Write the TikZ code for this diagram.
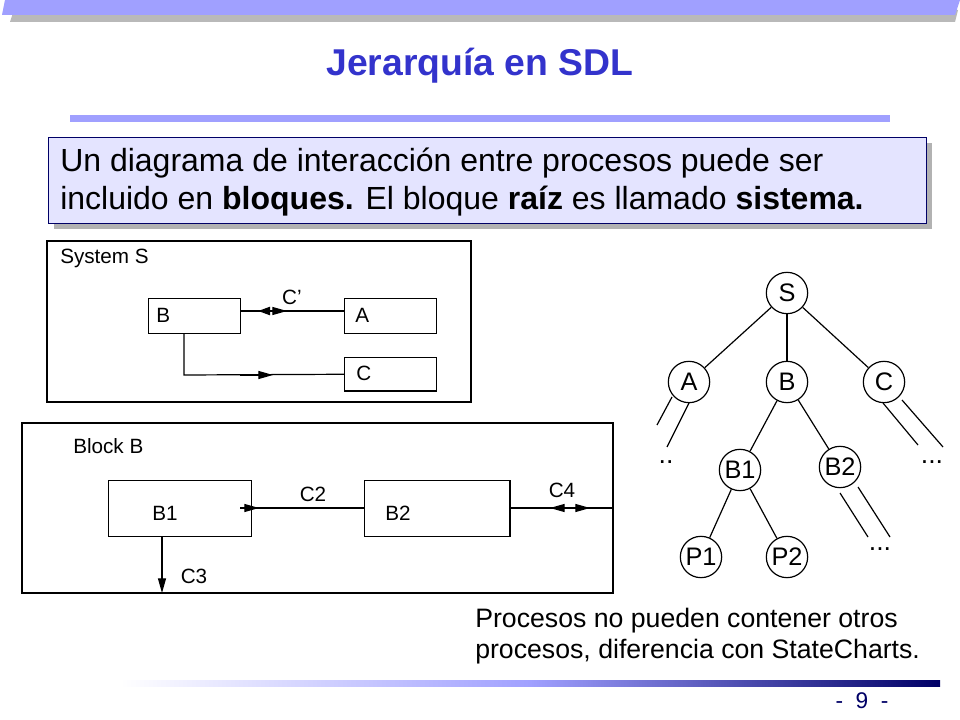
\documentclass[tikz,border=0pt]{standalone}
\usepackage{fontspec}
\setmainfont{Liberation Sans}
\usetikzlibrary{arrows.meta}
\definecolor{lav}{HTML}{A0A0FF}
\definecolor{boxfill}{HTML}{E4E4FF}
\definecolor{titleblue}{HTML}{3333CC}
\definecolor{navy}{HTML}{000066}
\tikzset{
 blk/.style={draw,line width=0.9pt},
 sbox/.style={draw,line width=0.9pt,minimum width=69pt,minimum height=26pt,anchor=north west,inner sep=0pt},
 tn/.style={draw,circle,line width=0.9pt,minimum size=31pt,inner sep=0pt,font=\fontsize{19}{19}\selectfont},
 ed/.style={line width=0.9pt},
 tip/.style={-{Triangle[length=11pt,width=6pt]}},
 lbl/.style={font=\fontsize{15.5}{15.5}\selectfont,inner sep=0pt},
}
\begin{document}
\begin{tikzpicture}[x=0.75pt,y=-0.75pt]
\useasboundingbox (0,0) rectangle (960,720);
% top bar
\fill[gray!55] (14,10) -- (958,10) -- (955,22) -- (10,22) -- cycle;
\fill[lav] (5,0) -- (960,0) -- (955,15) -- (2,15) -- cycle;
\node[font=\fontsize{28}{28}\selectfont\bfseries,text=titleblue] (title) at (480,66) {Jerarquía en SDL};
\fill[lav] (70,115) rectangle (890,122);
% text box
\fill[gray!60] (54,143) rectangle (932,229);
\node[draw=navy,fill=boxfill,line width=0.8pt,minimum width=658.5pt,minimum height=64.5pt,anchor=north west,align=left,inner sep=0pt] (tb) at (48,137) {};
\node[anchor=north west,align=left,font=\fontsize{24}{28.5}\selectfont,inner sep=0pt] (tbt) at (60,148) {Un diagrama de interacción entre procesos puede ser\\incluido en \textbf{bloques.} El bloque \textbf{raíz} es llamado \textbf{sistema.}};
% System S
\draw[blk] (47,241) rectangle (471,402);
\node[lbl,anchor=west] (sys) at (60,258) {System S};
\node[sbox] (B) at (148,298) {};
\node[lbl,anchor=west] at (156,315) {B};
\node[sbox] (A) at (344,298) {};
\node[lbl,anchor=west] at (355,315) {A};
\node[sbox,minimum height=25pt] (C) at (344,357) {};
\node[lbl,anchor=west] at (356,373) {C};
\coordinate (cm1) at (286,311);
\draw[ed] (B.east|-cm1) -- (A.west|-cm1);
\draw[line width=1.6pt,-{Triangle[length=9pt,width=6pt]}] (285,311) -- (258,311);
\draw[ed,tip] (270,311) -- (287,311);
\node[lbl] (cp) at (292,297) {C’};
\coordinate (bc) at (184,333);
\draw[ed] (bc) -- (184,375) -- (C.west|-C.center);
\draw[ed,tip] (240,375) -- (273,375);
% Block B
\draw[blk] (22,423) rectangle (613,593);
\node[lbl,anchor=west] (blkb) at (73,446) {Block B};
\node[sbox,minimum width=107pt,minimum height=42pt] (B1) at (108,480) {};
\node[lbl] at (165,513) {B1};
\node[sbox,minimum width=109pt,minimum height=42pt] (B2) at (364,480) {};
\node[lbl] at (398,513) {B2};
\coordinate (rb) at (613,508);
\draw[ed] (B1.east|-rb) -- (B2.west|-rb);
\draw[ed,tip] (240,508) -- (259,508);
\node[lbl] (c2) at (313,494) {C2};
\draw[ed] (B2.east|-rb) -- (rb);
\draw[ed,tip] (570,508) -- (550,508);
\draw[ed,tip] (570,508) -- (590,508);
\node[lbl] (c4) at (562,490) {C4};
\coordinate (b1b) at (162,536);
\draw[ed,tip] (b1b) -- (162,593);
\node[lbl] (c3) at (194,576) {C3};
% tree
\node[tn] (S) at (787,293) {S};
\node[tn] (tA) at (689,382) {A};
\node[tn] (tB) at (787,382) {B};
\node[tn] (tC) at (884,382) {C};
\node[tn] (tB1) at (740,470) {B1};
\node[tn] (tB2) at (840,467) {B2};
\node[tn] (P1) at (701,557) {P1};
\node[tn] (P2) at (787,557) {P2};
\draw[ed] (S) -- (tA); \draw[ed] (S) -- (tB); \draw[ed] (S) -- (tC);
\draw[ed] (tB) -- (tB1); \draw[ed] (tB) -- (tB2);
\draw[ed] (tB1) -- (P1); \draw[ed] (tB1) -- (P2);
\draw[ed] (672,397) -- (657,425); \draw[ed] (689,403) -- (667,447);
\draw[ed] (883,403) -- (918,445); \draw[ed] (902,400) -- (943,447);
\draw[ed] (840,493) -- (868,537); \draw[ed] (858,487) -- (890,537);
\node[lbl,font=\fontsize{20}{20}\selectfont] (d1) at (666,462) {..};
\node[lbl,font=\fontsize{20}{20}\selectfont] (d2) at (932,462) {...};
\node[lbl,font=\fontsize{20}{20}\selectfont] (d3) at (880,549) {...};
% bottom text
\node[anchor=north west,align=left,font=\fontsize{20}{23.5}\selectfont,inner sep=0pt] (bt) at (475,608) {Procesos no pueden contener otros\\procesos, diferencia con StateCharts.};
% bottom bar
\shade[left color=white,right color=lav] (120,680) rectangle (530,686);
\shade[left color=lav,right color=navy] (530,680) rectangle (940,686);
\node[font=\fontsize{17}{17}\selectfont,text=navy] (pg) at (862,701) {-\ \ 9\ \ -};
\end{tikzpicture}
\end{document}
